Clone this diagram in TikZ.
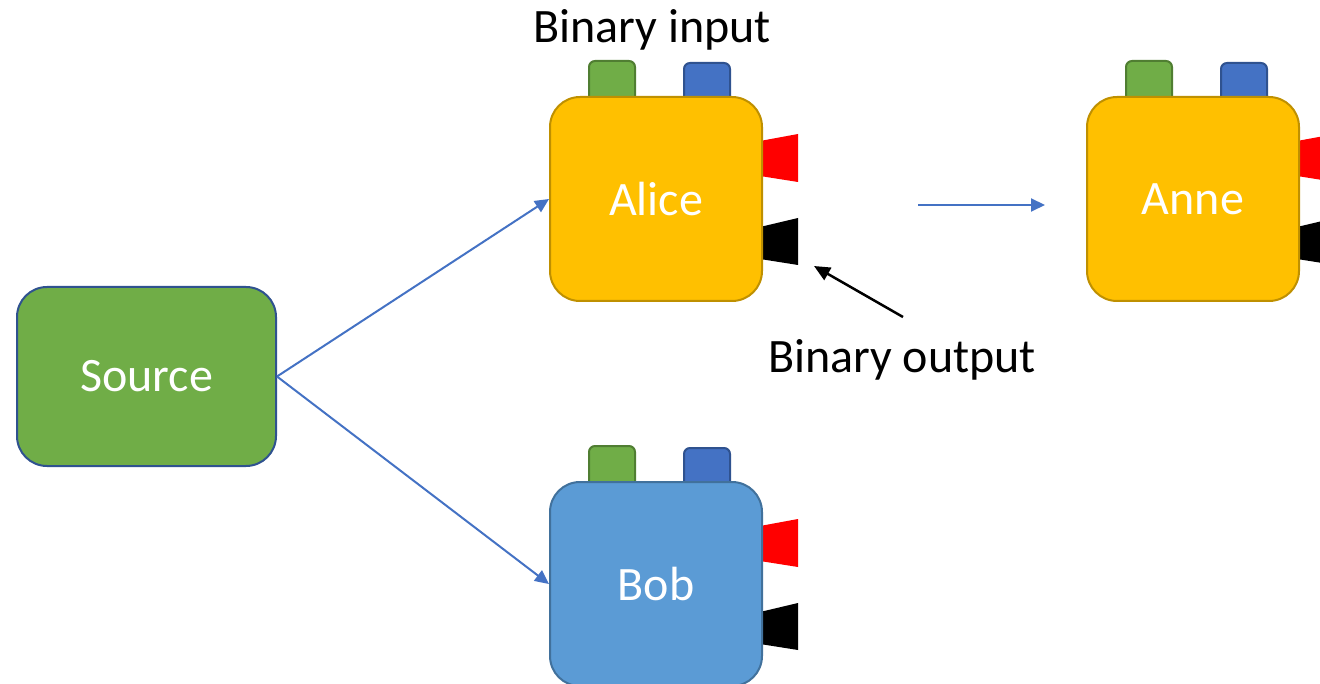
\documentclass[tikz,border=0pt]{standalone}
\usepackage{fontspec}
\setmainfont{Carlito}
\usetikzlibrary{arrows.meta}

\definecolor{leafgreen}{HTML}{70AD47}
\definecolor{leafgreenedge}{HTML}{507E32}
\definecolor{navyedge}{HTML}{2F528F}
\definecolor{royal}{HTML}{4472C4}
\definecolor{amber}{HTML}{FFC000}
\definecolor{amberedge}{HTML}{BF9000}
\definecolor{sky}{HTML}{5B9BD5}
\definecolor{skyedge}{HTML}{41719C}
\definecolor{signalred}{HTML}{FF0000}

\tikzset{
  boxtext/.style={text=white, font=\fontsize{48}{56}\selectfont},
  device/.style={draw, line width=2, rounded corners=30, minimum width=212,
    minimum height=204, inner sep=0, boxtext},
  alicestyle/.style={device, fill=amber, draw=amberedge},
  bobstyle/.style={device, fill=sky, draw=skyedge},
  sourcestyle/.style={draw=navyedge, fill=leafgreen, line width=2, rounded corners=30,
    minimum width=259, minimum height=179, inner sep=0, boxtext},
  greenbtn/.style={draw=leafgreenedge, fill=leafgreen, line width=2, rounded corners=6},
  bluebtn/.style={draw=navyedge, fill=royal, line width=2, rounded corners=6},
  flow/.style={draw=royal, line width=2, -{Triangle[length=14,width=13]}},
  pointer/.style={draw=black, line width=2.5, -{Triangle[length=16,width=14]}},
  caption/.style={font=\fontsize{48}{56}\selectfont, text=black, inner sep=0, anchor=base},
}

% A measuring device: two input buttons on top, a box, two output lights on the right.
% #1 node name, #2 label, #3 left edge, #4 top edge, #5 box style
\newcommand\measuringdevice[5]{%
  \begin{scope}[shift={(#3,#4)}]
    \draw[greenbtn] (39,30) rectangle (85,-36);
    \draw[bluebtn] (134,30) rectangle (180,-34);
    \fill[signalred] (210,44) -- (248,37) -- (248,85) -- (210,79) -- cycle;
    \fill[black] (210,130) -- (248,121) -- (248,168) -- (210,162) -- cycle;
    \node[#5] (#1) at (106,102) {#2};
  \end{scope}%
}

\begin{document}
\begin{tikzpicture}[x=1pt, y=-1pt]
  \useasboundingbox (0,0) rectangle (1320,684);

  % source on the left
  \node[sourcestyle] (src) at (146.5,376.5) {Source};

  % devices
  \measuringdevice{alice}{Alice}{550}{97}{alicestyle}
  \measuringdevice{anne}{Anne}{1087}{97}{alicestyle}
  \measuringdevice{bob}{Bob}{550}{482}{bobstyle}

  % distribution from the source
  \draw[flow] (src.east) -- (alice.west);
  \draw[flow] (src.east) -- (bob.west);

  % forward arrow between the two upper devices
  \coordinate (fwdstart) at (918,205);
  \coordinate (fwdend) at (1045,205);
  \draw[flow] (fwdstart) -- (fwdend);

  % labels
  \node[caption] (inlabel) at (652,43) {Binary input};
  \node[caption] (outlabel) at (902,373) {Binary output};

  % pointer to the output light
  \coordinate (ptrstart) at (903,317);
  \coordinate (ptrend) at (814,266);
  \draw[pointer] (ptrstart) -- (ptrend);
\end{tikzpicture}
\end{document}
